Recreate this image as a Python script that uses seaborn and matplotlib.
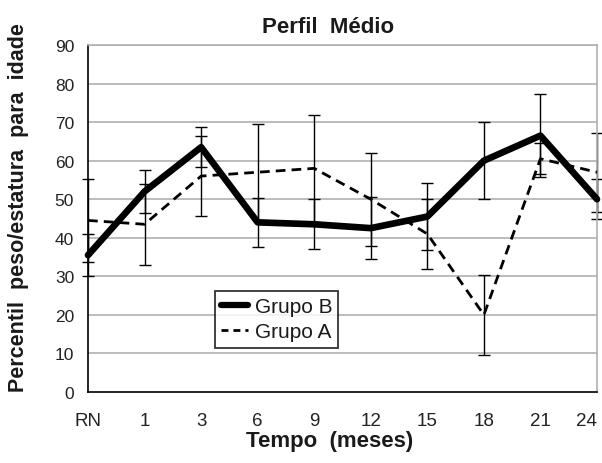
import numpy as np
import pandas as pd
import matplotlib
matplotlib.use("Agg")
import matplotlib.pyplot as plt
import seaborn as sns
from matplotlib.lines import Line2D

categories = ["RN", "1", "3", "6", "9", "12", "15", "18", "21", "24"]
grupo_b = [35.5, 52, 63.5, 44, 43.5, 42.5, 45.5, 60, 66.5, 50]
grupo_a = [44.5, 43.5, 56, 57, 58, 50, 41, 20, 60.5, 57]
err_b = [5.4, 5.6, 5.2, 6.4, 6.5, 8, 8.6, 10, 10.7, 5.2]
err_a = [10.7, 10.5, 10.3, 12.4, 13.8, 12.1, 9.1, 10.3, 4, 10.3]
yticks = [0, 10, 20, 30, 40, 50, 60, 70, 80, 90]

sns.set_style("white")
plt.rcParams["font.family"] = ["Liberation Sans", "DejaVu Sans"]

pos = np.arange(len(categories))
df = pd.DataFrame({
    "pos": np.concatenate([pos, pos]),
    "valor": grupo_b + grupo_a,
    "grupo": ["Grupo B"] * len(pos) + ["Grupo A"] * len(pos),
})

fig = plt.figure(figsize=(6.02, 4.64), dpi=100)
ax = fig.add_axes([88 / 602, 1 - 393 / 464, (597 - 88) / 602, (393 - 46) / 464])

# gridlines
for v in yticks[1:]:
    ax.axhline(v, color="#b0b0b0", lw=1.2, zorder=0)

# error bars
ax.errorbar(pos, grupo_b, yerr=err_b, fmt="none", ecolor="black", elinewidth=1.0,
            capsize=4, capthick=1.0, zorder=2, clip_on=False)
ax.errorbar(pos, grupo_a, yerr=err_a, fmt="none", ecolor="black", elinewidth=1.0,
            capsize=4, capthick=1.0, zorder=2, clip_on=False)

sns.lineplot(data=df[df.grupo == "Grupo B"], x="pos", y="valor", ax=ax, color="black",
             linewidth=4.8, legend=False, zorder=3, clip_on=False)
sns.lineplot(data=df[df.grupo == "Grupo A"], x="pos", y="valor", ax=ax, color="black",
             linewidth=2.0, legend=False, zorder=4, clip_on=False, dashes=False)
ax.lines[-1].set_dashes([3.5, 2.2])

ax.set_xlim(0, 9)
ax.set_ylim(0, 90)
ax.set_xticks(pos)
ax.set_xticklabels(categories)
ax.set_yticks(yticks)
ax.tick_params(axis="x", direction="inout", length=9, width=1, labelsize=13.5, pad=10,
               colors="black", labelcolor="#222222")
ax.tick_params(axis="y", direction="out", length=5, width=1, labelsize=12.5, pad=5,
               colors="black", labelcolor="#222222")
ax.get_xticklabels()[-1].set_horizontalalignment("right")

for s in ["left", "bottom"]:
    ax.spines[s].set_color("black")
    ax.spines[s].set_linewidth(1.2)
for s in ["top", "right"]:
    ax.spines[s].set_color("#b0b0b0")
    ax.spines[s].set_linewidth(1.2)
    ax.spines[s].set_visible(True)

ax.set_xlabel("Tempo  (meses)", fontsize=16, fontweight="bold", color="#1a1a1a")
ax.xaxis.label.set_va("center")
ax.xaxis.set_label_coords((330 - 88) / 509, (393 - 442) / 347)
ax.set_ylabel("Percentil  peso/estatura  para  idade", fontsize=15.5, fontweight="bold",
              color="#1a1a1a")
ax.yaxis.label.set_va("center")
ax.yaxis.set_label_coords((19 - 88) / 509, (393 - 208) / 347)
ax.set_title("Perfil  Médio", fontsize=16, fontweight="bold", color="#1a1a1a",
             x=(328 - 88) / 509, y=(393 - 33) / 347, pad=0)

handles = [Line2D([0], [0], color="black", lw=4.5),
           Line2D([0], [0], color="black", lw=2, dashes=[2.5, 1.8])]
leg = ax.legend(handles, ["Grupo B", "Grupo A"], loc="upper left",
                bbox_to_anchor=((215 - 88) / 509, (393 - 292) / 347),
                frameon=True, fancybox=False, edgecolor="black", fontsize=15,
                handlelength=1.3, handletextpad=0.3, borderpad=0.3, labelspacing=0.3,
                borderaxespad=0)
leg.get_frame().set_linewidth(1.3)
for t in leg.get_texts():
    t.set_color("#1a1a1a")

fig.savefig("out.png", dpi=100)
